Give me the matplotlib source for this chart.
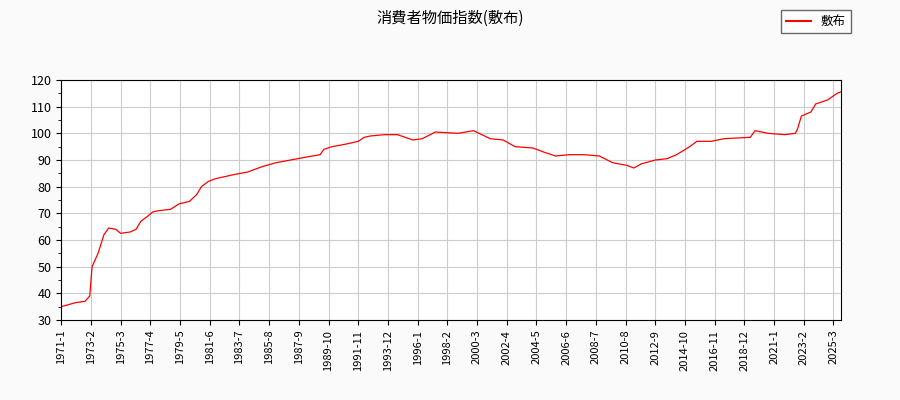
import matplotlib
matplotlib.use('Agg')
import matplotlib.pyplot as plt
import pandas as pd

plt.rcParams['font.family'] = ['Noto Sans CJK JP', 'DejaVu Sans']

# points (month, index value)
dates = ['1971-01', '1972-01', '1972-09', '1973-01', '1973-03', '1973-08', '1974-01',
         '1974-05', '1974-11', '1975-03', '1975-11', '1976-04', '1976-08', '1977-02',
         '1977-06', '1977-11', '1978-09', '1979-04', '1980-01', '1980-07', '1980-11',
         '1981-05', '1981-11', '1983-02', '1984-02', '1985-02', '1986-02', '1987-02',
         '1988-02', '1989-03', '1989-06', '1990-01', '1991-01', '1991-11', '1992-04',
         '1992-09', '1993-09', '1994-08', '1995-09', '1996-05', '1997-04', '1998-11',
         '1999-12', '2001-02', '2002-01', '2002-11', '2004-02', '2004-11', '2005-09',
         '2006-09', '2007-09', '2008-10', '2009-09', '2010-09', '2011-03', '2011-09',
         '2012-09', '2013-07', '2014-03', '2015-02', '2015-08', '2016-08', '2017-07',
         '2019-05', '2019-09', '2020-08', '2021-10', '2022-07', '2022-09', '2022-12',
         '2023-08', '2023-12', '2024-10', '2025-06', '2025-09']
values = [35, 36.5, 37, 39, 50, 55, 62,
          64.5, 64, 62.5, 63, 64, 67, 69,
          70.5, 71, 71.5, 73.5, 74.5, 77, 80,
          82, 83, 84.5, 85.5, 87.5, 89, 90,
          91, 92, 94, 95, 96, 97, 98.5,
          99, 99.5, 99.5, 97.5, 98, 100.5, 100,
          101, 98, 97.5, 95, 94.5, 93, 91.5,
          92, 92, 91.5, 89, 88, 87, 88.5,
          90, 90.5, 92, 95, 97, 97, 98,
          98.5, 101, 100, 99.5, 100, 102, 106.5,
          108, 111, 112.5, 115, 115.5]

start = pd.Period('1971-01', 'M')
x = [(pd.Period(d, 'M') - start).n for d in dates]
tick_pos = list(range(0, x[-1] + 1, 25))
tick_labels = [f'{(start + p).year}-{(start + p).month}' for p in tick_pos]

fig = plt.figure(figsize=(9, 4), dpi=100, facecolor='#fafafa')
ax = fig.add_axes([0.068, 0.2, 0.866, 0.6])
ax.plot(x, values, color='red', linewidth=0.9, label='敷布')
ax.set_xlim(0, x[-1])
ax.set_ylim(30, 120)
ax.set_yticks(range(30, 121, 10))
ax.set_xticks(tick_pos)
ax.set_xticklabels(tick_labels, rotation=90, fontsize=8)
ax.tick_params(axis='y', labelsize=9)
ax.yaxis.set_minor_locator(matplotlib.ticker.MultipleLocator(5))
ax.grid(True, color='#cccccc', linewidth=0.8)
ax.set_axisbelow(True)
fig.suptitle('消費者物価指数(敷布)', fontsize=11, y=0.975)
leg = fig.legend(loc='upper right', bbox_to_anchor=(0.952, 0.99), fontsize=9,
                 fancybox=False, edgecolor='#444444')
for line in leg.get_lines():
    line.set_linewidth(1.5)
fig.savefig('out.png', dpi=100, facecolor=fig.get_facecolor())
